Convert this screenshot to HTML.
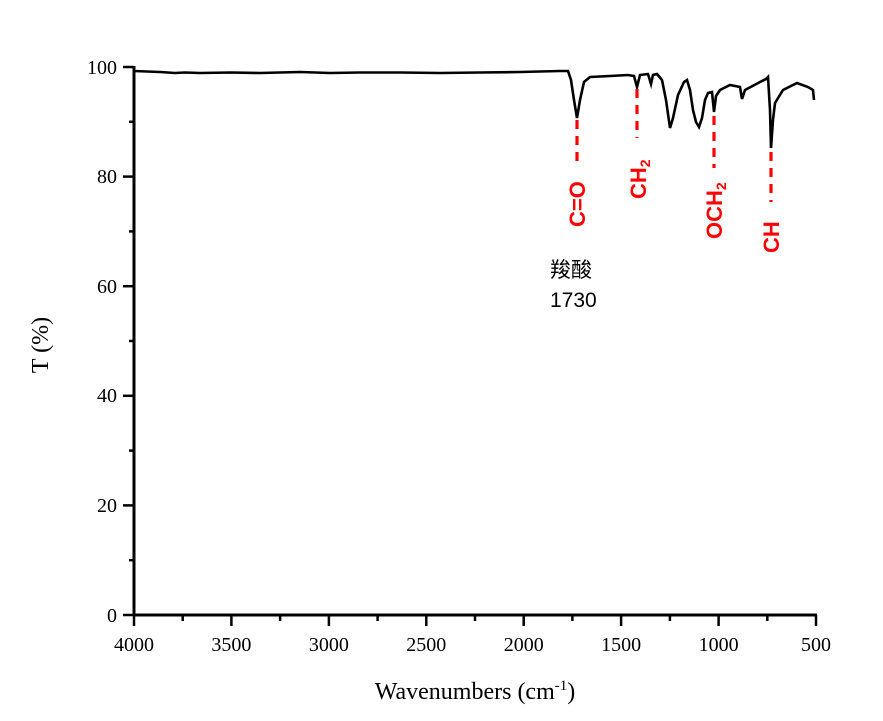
<!DOCTYPE html>
<html><head><meta charset="utf-8"><style>body{margin:0;background:#fff}</style></head><body>
<svg width="883" height="716" xmlns="http://www.w3.org/2000/svg">
<rect width="883" height="716" fill="#fff"/>
<g stroke="#000" stroke-width="3" fill="none">
<line x1="134" y1="66" x2="134" y2="616"/>
<line x1="133" y1="615" x2="817" y2="615"/>
</g>
<g stroke="#000" stroke-width="2.5">
<line x1="123" y1="67" x2="134" y2="67"/><line x1="123" y1="176.6" x2="134" y2="176.6"/><line x1="123" y1="286.2" x2="134" y2="286.2"/><line x1="123" y1="395.8" x2="134" y2="395.8"/><line x1="123" y1="505.4" x2="134" y2="505.4"/><line x1="123" y1="615" x2="134" y2="615"/>
<line x1="129" y1="121.8" x2="134" y2="121.8"/><line x1="129" y1="231.4" x2="134" y2="231.4"/><line x1="129" y1="341" x2="134" y2="341"/><line x1="129" y1="450.6" x2="134" y2="450.6"/><line x1="129" y1="560.2" x2="134" y2="560.2"/>
<line x1="134" y1="615" x2="134" y2="626"/><line x1="231.4" y1="615" x2="231.4" y2="626"/><line x1="328.9" y1="615" x2="328.9" y2="626"/><line x1="426.3" y1="615" x2="426.3" y2="626"/><line x1="523.7" y1="615" x2="523.7" y2="626"/><line x1="621.1" y1="615" x2="621.1" y2="626"/><line x1="718.6" y1="615" x2="718.6" y2="626"/><line x1="816" y1="615" x2="816" y2="626"/>
<line x1="182.7" y1="615" x2="182.7" y2="621"/><line x1="280.1" y1="615" x2="280.1" y2="621"/><line x1="377.6" y1="615" x2="377.6" y2="621"/><line x1="475" y1="615" x2="475" y2="621"/><line x1="572.4" y1="615" x2="572.4" y2="621"/><line x1="669.9" y1="615" x2="669.9" y2="621"/><line x1="767.3" y1="615" x2="767.3" y2="621"/>
</g>
<g font-family="Liberation Serif, serif" font-size="20" fill="#000" text-anchor="end">
<text x="117" y="74">100</text><text x="117" y="183">80</text><text x="117" y="293">60</text><text x="117" y="402">40</text><text x="117" y="512">20</text><text x="117" y="622">0</text>
</g>
<g font-family="Liberation Serif, serif" font-size="20" fill="#000" text-anchor="middle">
<text x="134" y="651">4000</text><text x="231.4" y="651">3500</text><text x="328.9" y="651">3000</text><text x="426.3" y="651">2500</text><text x="523.7" y="651">2000</text><text x="621.1" y="651">1500</text><text x="718.6" y="651">1000</text><text x="816" y="651">500</text>
</g>
<text x="475" y="699" font-family="Liberation Serif, serif" font-size="24" text-anchor="middle">Wavenumbers (cm<tspan font-size="15" dy="-9">-1</tspan><tspan dy="9">)</tspan></text>
<text transform="translate(48,345) rotate(-90)" font-family="Liberation Serif, serif" font-size="24" text-anchor="middle">T (%)</text>
<path fill="none" stroke="#000" stroke-width="2.6" d="M134,71 L160,72 L175,73 L185,72.5 L200,73 L230,72.5 L260,73 L300,72 L330,73 L360,72.5 L400,72.5 L440,73 L480,72.5 L520,72 L560,71 L568,71 L571,80 L574,100 L577,118 L580,100 L584,82 L590,77 L610,76 L628,75 L634,76 L637,87 L640,75 L648,74 L651,84 L653,75 L657,74 L662,80 L666,100 L670,128 L673,118 L678,95 L684,82 L687,80 L690,90 L693,110 L696,122 L699,127 L702,118 L705,100 L708,93 L712,92 L714,112 L716,96 L720,90 L730,85 L740,87 L742,99 L745,90 L760,82 L766,79 L768,77 L770,110 L771,148 L773,120 L775,103 L783,90 L797,83 L808,87 L813,90 L814,100"/>
<g stroke="#f00" stroke-width="3.2" stroke-dasharray="9,7">
<line x1="577" y1="120" x2="577" y2="168"/>
<line x1="637" y1="89" x2="637" y2="138"/>
<line x1="714" y1="116" x2="714" y2="168"/>
<line x1="771" y1="152" x2="771" y2="202"/>
</g>
<g font-family="Liberation Sans, sans-serif" font-weight="bold" font-size="22" fill="#f00">
<text transform="translate(585,227) rotate(-90)">C=O</text>
<text transform="translate(646,199) rotate(-90)">CH<tspan font-size="14" dy="4">2</tspan></text>
<text transform="translate(722,239) rotate(-90)">OCH<tspan font-size="14" dy="4">2</tspan></text>
<text transform="translate(779,253) rotate(-90)">CH</text>
</g>
<text x="550" y="277" font-family="Liberation Sans, 'Noto Sans CJK SC', sans-serif" font-size="21">羧酸</text>
<text x="550" y="307" font-family="Liberation Sans, sans-serif" font-size="21">1730</text>
</svg>
</body></html>
